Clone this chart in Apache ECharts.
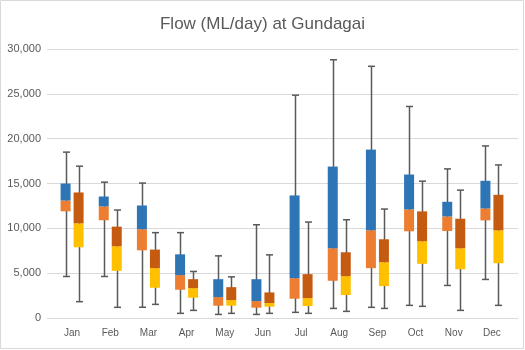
<!DOCTYPE html>
<html>
<head>
<meta charset="utf-8">
<script src="https://cdn.jsdelivr.net/npm/echarts@6/dist/echarts.min.js"></script>
<style>html,body{margin:0;padding:0;background:#fff}#c{width:525px;height:350px}</style>
</head>
<body>
<div id="c"></div>
<script>
const months = ['Jan','Feb','Mar','Apr','May','Jun','Jul','Aug','Sep','Oct','Nov','Dec'];
// Left group (blue over orange)
const aMin = [4630, 4630, 1200, 520, 400, 400, 630, 1070, 1190, 1410, 3630, 4300];
const aQ1  = [11900, 10900, 7550, 3150, 1370, 1150, 2150, 4150, 5560, 9670, 9700, 10890];
const aMed = [13100, 12450, 9900, 4780, 2330, 1890, 4440, 7780, 9780, 12110, 11330, 12220];
const aQ3  = [15000, 13550, 12550, 7100, 4330, 4330, 13670, 16890, 18780, 16000, 12960, 15300];
const aMax = [18500, 15150, 15050, 9520, 6930, 10400, 24850, 28800, 28070, 23590, 16630, 19190];
// Right group (brown over yellow)
const bMin = [1820, 1190, 1520, 850, 520, 520, 520, 740, 1070, 1300, 850, 1410];
const bQ1  = [7890, 5260, 3370, 2260, 1370, 1260, 1330, 2560, 3560, 6040, 5440, 6110];
const bMed = [10560, 8000, 5560, 3330, 2000, 1670, 2220, 4670, 6220, 8560, 7780, 9780];
const bQ3  = [14000, 10190, 7630, 4330, 3440, 2850, 4890, 7330, 8780, 11890, 11070, 13740];
const bMax = [16930, 12040, 9520, 5190, 4590, 7040, 10700, 10960, 12150, 15260, 14260, 17070];
const yTicks = {min: 0, max: 30000, interval: 5000};

const BAR_W = 10, GAP = 3;
const FONT = 'Liberation Sans';
const diff = (hi, lo) => hi.map((v, i) => v - lo[i]);

function whiskerData(mn, mx, side) {
  return months.map((m, i) => [i, mn[i], mx[i], side]);
}
function renderWhisker(params, api) {
  const i = api.value(0);
  const side = api.value(3);
  const off = side * (BAR_W + GAP) / 2;
  const top = api.coord([i, api.value(2)]);
  const bot = api.coord([i, api.value(1)]);
  const x = Math.round(top[0] + off) + 0.5;
  const style = {stroke: '#595959', lineWidth: 1.5};
  return {
    type: 'group',
    children: [
      {type: 'line', shape: {x1: x, y1: top[1], x2: x, y2: bot[1]}, style},
      {type: 'line', shape: {x1: x - 3.5, y1: top[1], x2: x + 3.5, y2: top[1]}, style},
      {type: 'line', shape: {x1: x - 3.5, y1: bot[1], x2: x + 3.5, y2: bot[1]}, style}
    ]
  };
}
function stackBar(name, stack, data, color) {
  return {
    name, type: 'bar', stack, data, xAxisIndex: 0, yAxisIndex: 0,
    barWidth: BAR_W, barGap: (GAP / BAR_W * 100) + '%', z: 3, silent: true,
    itemStyle: {color}, emphasis: {disabled: true}
  };
}

const chart = echarts.init(document.getElementById('c'));
chart.setOption({
  animation: false,
  backgroundColor: '#fff',
  title: {
    text: 'Flow (ML/day) at Gundagai', left: 'center', top: 11,
    textStyle: {color: '#595959', fontSize: 17, fontWeight: 'normal', fontFamily: FONT}
  },
  graphic: [{
    type: 'rect', shape: {x: 0.5, y: 0.5, width: 523, height: 348},
    style: {fill: 'none', stroke: '#d9d9d9', lineWidth: 1}, silent: true, z: -1
  }],
  grid: [
    {left: 53, right: 14, top: 49, bottom: 32},
    {left: 47, right: 7, top: 49, bottom: 32}
  ],
  xAxis: [
    {gridIndex: 0, type: 'category', data: months,
     axisLine: {show: false}, axisTick: {show: false},
     axisLabel: {color: '#595959', fontSize: 10, margin: 10, fontFamily: FONT}},
    {gridIndex: 1, type: 'category', data: months, show: false}
  ],
  yAxis: [
    {gridIndex: 0, type: 'value', min: yTicks.min, max: yTicks.max, interval: yTicks.interval,
     axisLabel: {show: false}, axisLine: {show: false}, axisTick: {show: false}, splitLine: {show: false}},
    {gridIndex: 1, type: 'value', min: yTicks.min, max: yTicks.max, interval: yTicks.interval,
     axisLine: {show: false}, axisTick: {show: false},
     splitLine: {lineStyle: {color: '#d9d9d9', width: 1}},
     axisLabel: {color: '#595959', fontSize: 11, margin: 6, fontFamily: FONT,
                 formatter: v => v.toLocaleString('en-US')}}
  ],
  series: [
    {type: 'custom', name: 'whiskA', xAxisIndex: 0, yAxisIndex: 0, z: 1, silent: true,
     renderItem: renderWhisker, data: whiskerData(aMin, aMax, -1), encode: {x: 0, y: [1, 2]}},
    {type: 'custom', name: 'whiskB', xAxisIndex: 0, yAxisIndex: 0, z: 1, silent: true,
     renderItem: renderWhisker, data: whiskerData(bMin, bMax, 1), encode: {x: 0, y: [1, 2]}},
    stackBar('baseA', 'A', aQ1, 'rgba(0,0,0,0)'),
    stackBar('lowA', 'A', diff(aMed, aQ1), '#ED7D31'),
    stackBar('upA', 'A', diff(aQ3, aMed), '#2E75B6'),
    stackBar('baseB', 'B', bQ1, 'rgba(0,0,0,0)'),
    stackBar('lowB', 'B', diff(bMed, bQ1), '#FFC000'),
    stackBar('upB', 'B', diff(bQ3, bMed), '#C55A11')
  ]
});
</script>
</body>
</html>
